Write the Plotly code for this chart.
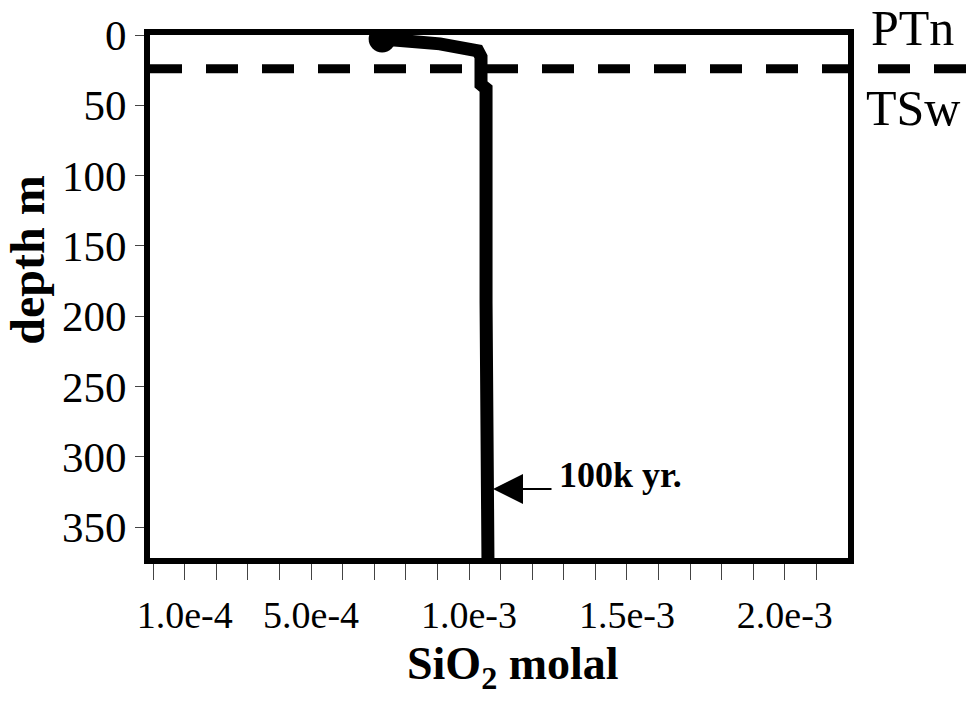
import numpy as np
import plotly.graph_objects as go

# ---- data ----
sio2 = [7.25e-4, 9.08e-4, 1.028e-3, 1.038e-3, 1.038e-3, 1.054e-3, 1.054e-3, 1.057e-3, 1.060e-3]
depth = [2.8, 6.3, 11.3, 15.5, 35.2, 38.1, 190, 345, 372]
boundary_depth = 24
zone_labels = ["PTn", "TSw"]
x_tick_vals = [round(i * 1e-4, 5) for i in range(22)]
x_tick_labels = {1e-4: "1.0e-4", 5e-4: "5.0e-4", 1e-3: "1.0e-3", 1.5e-3: "1.5e-3", 2e-3: "2.0e-3"}
y_tick_vals = [0, 50, 100, 150, 200, 250, 300, 350]
annotation_depth = 323
annotation_text = "100k yr."
x_range = [-1e-5, 2.2e-3]
y_range = [372, 0]

x_tick_text = []
for v in x_tick_vals:
    lab = ""
    for k, t in x_tick_labels.items():
        if abs(v - k) < 1e-9:
            lab = t
    x_tick_text.append(lab)

SERIF = "Liberation Serif, Times New Roman, serif"

fig = go.Figure()
fig.add_trace(go.Scatter(x=sio2, y=depth, mode="lines",
                         line=dict(color="black", width=13), hoverinfo="skip"))
fig.add_trace(go.Scatter(x=[sio2[0]], y=[depth[0]], mode="markers",
                         marker=dict(color="black", size=27), hoverinfo="skip"))

# boundary dashed line (extends beyond plot to the right)
ybd = 1 - boundary_depth / y_range[0]
fig.add_shape(type="line", xref="x domain", yref="y domain", x0=0, x1=1.17, y0=ybd, y1=ybd,
              line=dict(color="black", width=9, dash="32px,24px"))

# zone labels
fig.add_annotation(xref="x domain", yref="y domain", x=1.093, y=1.0, text=zone_labels[0],
                   showarrow=False, font=dict(family=SERIF, size=50, color="black"),
                   xanchor="center", yanchor="middle", yshift=7)
fig.add_annotation(xref="x domain", yref="y domain", x=1.093, y=1 - 52 / y_range[0], text=zone_labels[1],
                   showarrow=False, font=dict(family=SERIF, size=50, color="black"),
                   xanchor="center", yanchor="middle")

# arrow annotation
fig.add_annotation(x=sio2[-2], y=annotation_depth, xref="x", yref="y", text="",
                   showarrow=True, ax=66, ay=0, axref="pixel", ayref="pixel",
                   arrowhead=2, arrowsize=3, arrowwidth=2, arrowcolor="black", standoff=6)
fig.add_annotation(x=sio2[-2], y=annotation_depth, xref="x", yref="y", text="<b>" + annotation_text + "</b>",
                   showarrow=False, xanchor="left", yanchor="middle", xshift=70, yshift=14,
                   font=dict(family=SERIF, size=36, color="black"))

# axis titles
fig.add_annotation(xref="paper", yref="paper", x=0.52, y=-0.208, text="<b>SiO<sub>2</sub> molal</b>",
                   showarrow=False, font=dict(family=SERIF, size=46, color="black"),
                   xanchor="center", yanchor="middle")
fig.add_annotation(xref="paper", yref="paper", x=-0.175, y=0.57, text="<b>depth m</b>", textangle=-90,
                   showarrow=False, font=dict(family=SERIF, size=48, color="black"),
                   xanchor="center", yanchor="middle")

fig.update_xaxes(range=x_range, tickmode="array", tickvals=x_tick_vals, ticktext=x_tick_text,
                 ticks="outside", ticklen=16, tickwidth=1, tickcolor="#444",
                 showline=True, linewidth=6, linecolor="black", mirror=True,
                 showgrid=False, zeroline=False,
                 tickfont=dict(family=SERIF, size=38, color="black"), ticklabelstandoff=2)
fig.update_yaxes(range=y_range, tickmode="array", tickvals=y_tick_vals,
                 ticks="outside", ticklen=9, tickwidth=1, tickcolor="#444",
                 showline=True, linewidth=6, linecolor="black", mirror=True,
                 showgrid=False, zeroline=False,
                 tickfont=dict(family=SERIF, size=43, color="black"), ticklabelstandoff=0)

fig.update_layout(width=973, height=701, margin=dict(l=150, r=125, t=30, b=143),
                  plot_bgcolor="white", paper_bgcolor="white", showlegend=False)

fig.write_html("out.html")
